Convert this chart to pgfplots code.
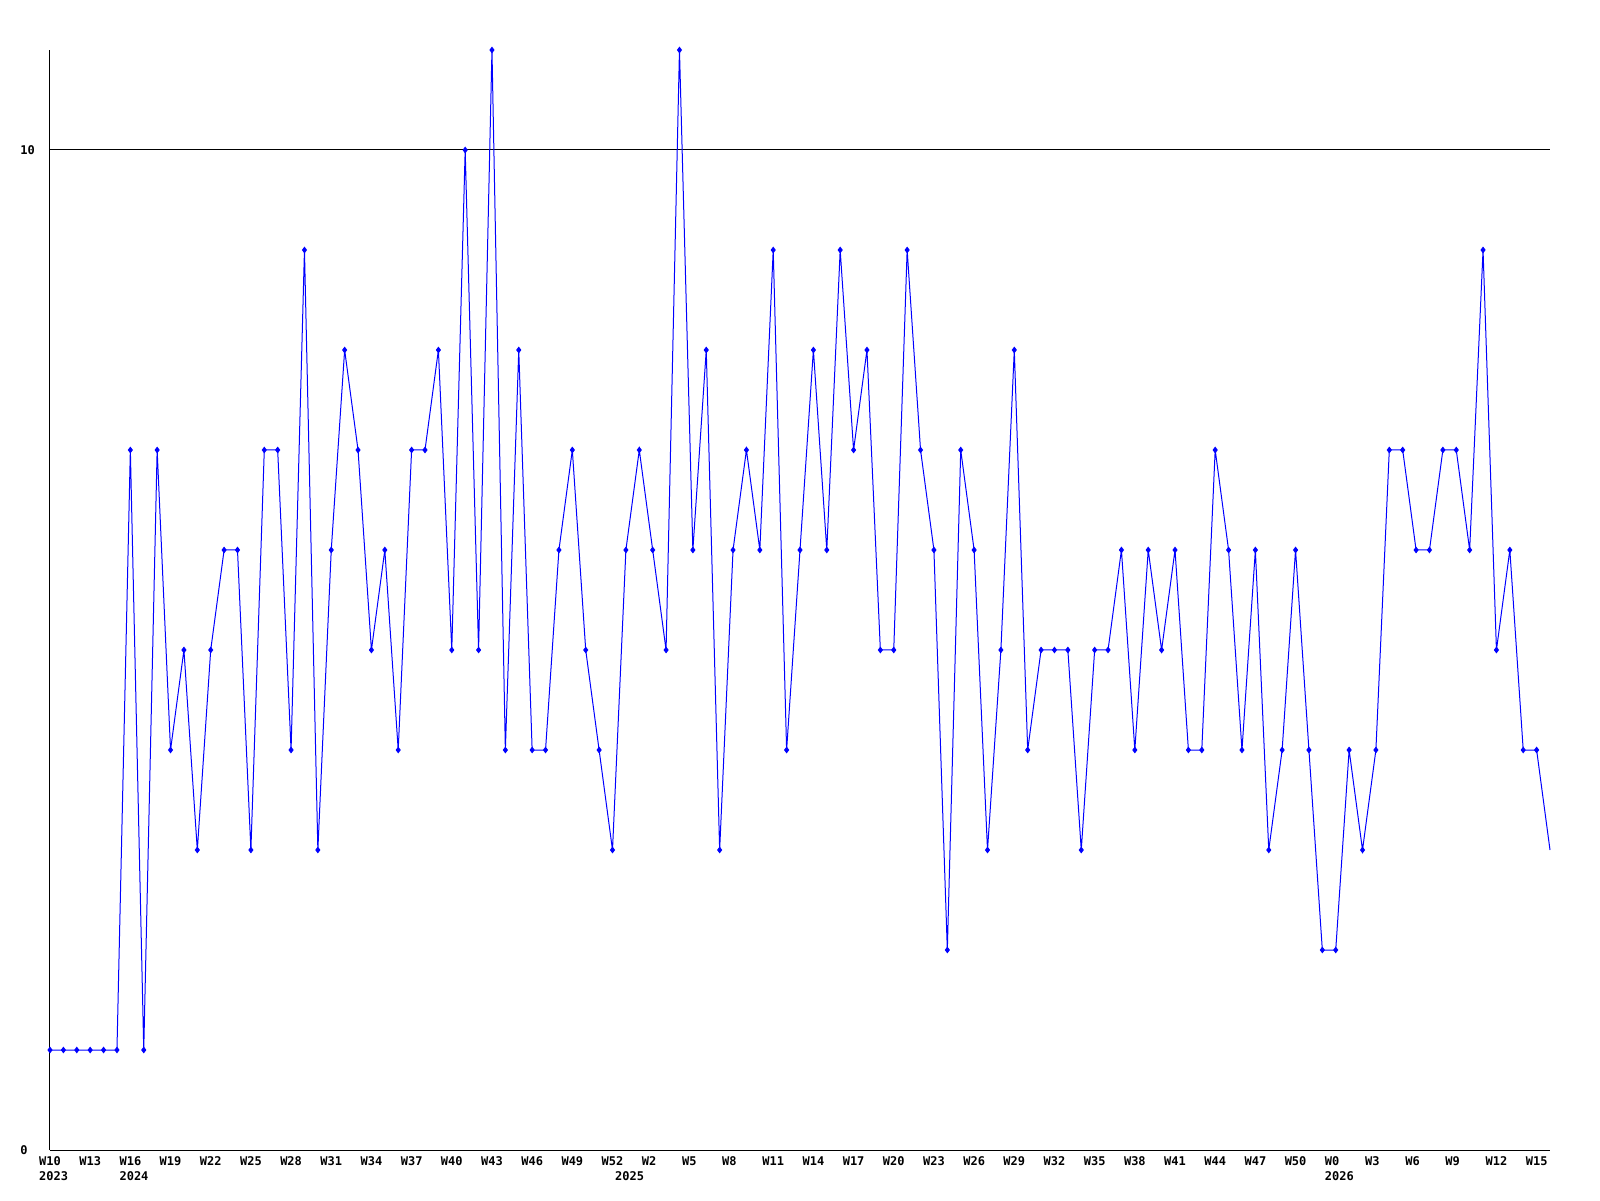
\documentclass[border=0pt]{standalone}
\usepackage{pgfplots}
\pgfplotsset{compat=1.18}
\usepackage{fontspec}
\setmainfont{DejaVu Sans Mono}
\begin{document}
\begin{tikzpicture}
\useasboundingbox (-25pt,-25pt) rectangle (775pt,575pt);
\begin{axis}[
  scale only axis, width=750pt, height=550pt,
  xmin=0, xmax=112, ymin=0, ymax=11,
  axis x line=bottom, axis y line=left,
  axis line style={-, black, line width=0.5pt},
  ytick={0,10}, yticklabels={0,10},
  ymajorgrids, grid style={black, line width=0.5pt},
  major tick length=0pt,
  xtick={0,3,...,111},
  xticklabels={W10,W13,W16,W19,W22,W25,W28,W31,W34,W37,W40,W43,W46,W49,W52,W2,W5,W8,W11,W14,W17,W20,W23,W26,W29,W32,W35,W38,W41,W44,W47,W50,W0,W3,W6,W9,W12,W15},
  extra x ticks={0,6,43,96},
  extra x tick labels={2023,2024,2025,2026},
  extra x tick style={xmajorgrids=false, ticklabel style={yshift=-7.5pt}},
  xticklabel style={font=\fontsize{6}{7.5}\selectfont\bfseries, anchor=north west, xshift=-6.6pt, yshift=-2pt, inner sep=1pt},
  yticklabel style={font=\fontsize{6}{7.5}\selectfont\bfseries, anchor=west, xshift=-18.3pt},
  clip=false,
]
\addplot[blue, line width=0.5pt, mark=diamond*, mark size=1.3pt, mark options={blue}, mark indices={1,...,112}] coordinates {
(0,1)(1,1)(2,1)(3,1)(4,1)(5,1)(6,7)(7,1)(8,7)(9,4)
(10,5)(11,3)(12,5)(13,6)(14,6)(15,3)(16,7)(17,7)(18,4)(19,9)
(20,3)(21,6)(22,8)(23,7)(24,5)(25,6)(26,4)(27,7)(28,7)(29,8)
(30,5)(31,10)(32,5)(33,11)(34,4)(35,8)(36,4)(37,4)(38,6)(39,7)
(40,5)(41,4)(42,3)(43,6)(44,7)(45,6)(46,5)(47,11)(48,6)(49,8)
(50,3)(51,6)(52,7)(53,6)(54,9)(55,4)(56,6)(57,8)(58,6)(59,9)
(60,7)(61,8)(62,5)(63,5)(64,9)(65,7)(66,6)(67,2)(68,7)(69,6)
(70,3)(71,5)(72,8)(73,4)(74,5)(75,5)(76,5)(77,3)(78,5)(79,5)
(80,6)(81,4)(82,6)(83,5)(84,6)(85,4)(86,4)(87,7)(88,6)(89,4)
(90,6)(91,3)(92,4)(93,6)(94,4)(95,2)(96,2)(97,4)(98,3)(99,4)
(100,7)(101,7)(102,6)(103,6)(104,7)(105,7)(106,6)(107,9)(108,5)(109,6)
(110,4)(111,4)(112,3)
};
\end{axis}
\end{tikzpicture}
\end{document}
